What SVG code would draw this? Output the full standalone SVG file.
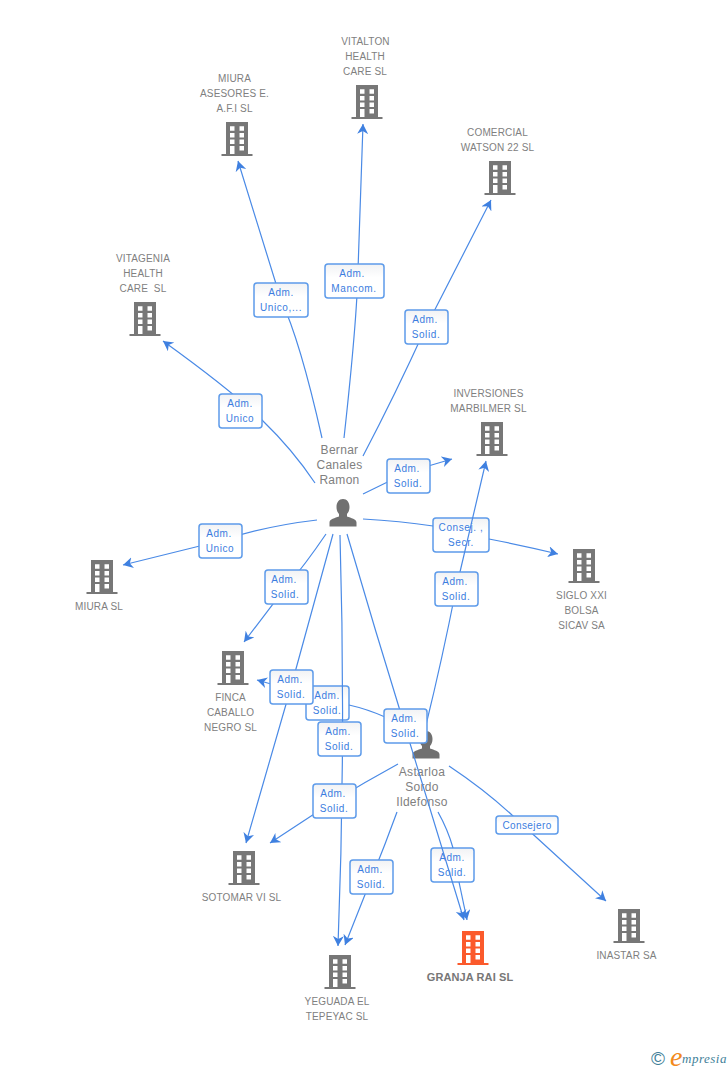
<svg xmlns="http://www.w3.org/2000/svg" xmlns:xlink="http://www.w3.org/1999/xlink" width="728" height="1070" viewBox="0 0 728 1070">
<style>
text{font-family:"Liberation Sans",Arial,sans-serif}
.n{font-size:10px;fill:#808080;text-anchor:middle;letter-spacing:.15px}
.p{font-size:12px;fill:#808080;text-anchor:middle;letter-spacing:.3px}
.g{font-size:11px;font-weight:bold;fill:#777;text-anchor:middle;letter-spacing:.1px}
.e{fill:none;stroke:#4a8ae6;stroke-width:1.2}
.ea{fill:none;stroke:#4a8ae6;stroke-width:1.2;marker-end:url(#a)}
.b{fill:url(#lg);stroke:#5d9bea;stroke-width:1.5}
.l{font-size:10px;fill:#3b7de0;text-anchor:middle;letter-spacing:.6px}
</style>
<defs>
<linearGradient id="lg" x1="0" y1="0" x2="0" y2="1"><stop offset="0" stop-color="#f1f2f4"/><stop offset=".4" stop-color="#fff"/><stop offset="1" stop-color="#fff"/></linearGradient>
<marker id="a" markerUnits="userSpaceOnUse" markerWidth="13" markerHeight="12" refX="10" refY="5.5" orient="auto"><polygon points="10,5.5 0,0 3,5.5 0,11" fill="#3f80e0"/></marker>
<symbol id="bld" overflow="visible">
<path fill-rule="evenodd" d="M-11 0H11V32H15.500V34H-15.500V32H-11ZM-7 4.300V8.800H-2.500V4.300ZM2.500 4.300V8.800H7V4.300ZM-7 11V15.500H-2.500V11ZM2.500 11V15.500H7V11ZM-7 17.500V22H-2.500V17.500ZM2.500 17.500V22H7V17.500ZM-7 24V32H-2.500V24ZM2.500 24V28.500H7V24Z"/>
</symbol>
<symbol id="per" overflow="visible">
<path fill="#707070" d="M0 0C4 0 6.500 3.500 6.500 8C6.500 11 5.500 13.500 4 15V17.500C8 19 13.500 20 13.500 23.500V27.500H-13.500V23.500C-13.500 20 -8 19 -4 17.500V15C-5.500 13.500 -6.500 11 -6.500 8C-6.500 3.500 -4 0 0 0Z"/>
</symbol>
</defs>
<rect width="728" height="1070" fill="#fff"/>
<g id="node-vitalton" fill="#777"><use href="#bld" x="367" y="85"/><text class="n" x="365.500" y="45">VITALTON</text><text class="n" x="365" y="60">HEALTH</text><text class="n" x="365" y="75">CARE SL</text></g>
<g id="node-miura-asesores" fill="#777"><use href="#bld" x="237" y="122"/><text class="n" x="234.500" y="82">MIURA</text><text class="n" x="234.500" y="97">ASESORES E.</text><text class="n" x="234.500" y="112">A.F.I SL</text></g>
<g id="node-comercial" fill="#777"><use href="#bld" x="500" y="161"/><text class="n" x="497.500" y="136">COMERCIAL</text><text class="n" x="497.500" y="151">WATSON 22 SL</text></g>
<g id="node-vitagenia" fill="#777"><use href="#bld" x="145" y="302"/><text class="n" x="143" y="262">VITAGENIA</text><text class="n" x="143" y="277">HEALTH</text><text class="n" x="143" y="292" xml:space="preserve">CARE  SL</text></g>
<g id="node-inversiones" fill="#777"><use href="#bld" x="492" y="422"/><text class="n" x="488.500" y="397">INVERSIONES</text><text class="n" x="488.500" y="412">MARBILMER SL</text></g>
<g id="node-siglo" fill="#777"><use href="#bld" x="584" y="549"/><text class="n" x="581.500" y="599">SIGLO XXI</text><text class="n" x="581.500" y="614">BOLSA</text><text class="n" x="581.500" y="629">SICAV SA</text></g>
<g id="node-miura" fill="#777"><use href="#bld" x="102" y="560"/><text class="n" x="99" y="610">MIURA SL</text></g>
<g id="node-finca" fill="#777"><use href="#bld" x="233" y="651"/><text class="n" x="230.500" y="701">FINCA</text><text class="n" x="230.500" y="716">CABALLO</text><text class="n" x="230.500" y="731">NEGRO SL</text></g>
<g id="node-sotomar" fill="#777"><use href="#bld" x="244" y="851"/><text class="n" x="241.500" y="901">SOTOMAR VI SL</text></g>
<g id="node-yeguada" fill="#777"><use href="#bld" x="340" y="955"/><text class="n" x="337" y="1005">YEGUADA EL</text><text class="n" x="337" y="1020">TEPEYAC SL</text></g>
<g id="node-granja" fill="#fb5a2c"><use href="#bld" x="473" y="931"/><text class="g" x="470" y="981">GRANJA RAI SL</text></g>
<g id="node-inastar" fill="#777"><use href="#bld" x="629" y="909"/><text class="n" x="626.500" y="959">INASTAR SA</text></g>
<g id="node-bernar"><use href="#per" x="343" y="499"/><text class="p" x="339.500" y="454">Bernar</text><text class="p" x="339.500" y="469">Canales</text><text class="p" x="339.500" y="484">Ramon</text></g>
<g id="node-astarloa"><use href="#per" x="426" y="731"/><text class="p" x="422" y="776">Astarloa</text><text class="p" x="422" y="791">Sordo</text><text class="p" x="422" y="806">Ildefonso</text></g>
<g id="labels-under">
<g><rect class="b" x="433" y="518" width="56" height="34" rx="3"/><text class="l" x="461" y="531">Consej. ,</text><text class="l" x="461" y="546">Secr.</text></g>
<g><rect class="b" x="306" y="686" width="43" height="34" rx="3"/><text class="l" x="327" y="699">Adm.</text><text class="l" x="327" y="714">Solid.</text></g>
<g><rect class="b" x="431" y="848" width="43" height="34" rx="3"/><text class="l" x="452" y="861">Adm.</text><text class="l" x="452" y="876">Solid.</text></g>
</g>
<g id="connectors">
<path class="ea" d="M315 483Q293 450 262 420T163 341"/>
<path class="ea" d="M322 438Q300 340 281 300L238 161"/>
<path class="ea" d="M344 438Q357 320 358 270L363 124"/>
<path class="ea" d="M363 456Q395 395 426 327L491 200"/>
<path class="ea" d="M363 494L408 472L452 459"/>
<path class="ea" d="M317 520Q265 526 220 541L123 565"/>
<path class="e" d="M363 519Q400 521 433 526"/>
<path class="ea" d="M489 539Q525 546 558 554"/>
<path class="ea" d="M326 534Q305 565 286 587L244 642"/>
<path class="ea" d="M333 534Q312 610 291 687L246 843"/>
<path class="ea" d="M340 535Q346 740 338 946"/>
<path class="ea" d="M347 534Q375 630 405 727L464 920"/>
<path class="ea" d="M426 725Q442 660 456 589L486 461"/>
<path class="e" d="M385 717Q367 709 349 705"/>
<path class="ea" d="M306 694L257 680"/>
<path class="ea" d="M398 764Q365 782 334 801L270 843"/>
<path class="ea" d="M397 812Q385 845 372 877L345 945"/>
<path class="e" d="M438 812Q448 830 453 848"/>
<path class="ea" d="M459 882L467 920"/>
<path class="ea" d="M449 766Q485 790 513 816L606 901"/>
</g>
<g id="labels-over">
<g><rect class="b" x="219" y="394" width="43" height="34" rx="3"/><text class="l" x="240" y="407">Adm.</text><text class="l" x="240" y="422">Unico</text></g>
<g><rect class="b" x="254" y="283" width="54" height="34" rx="3"/><text class="l" x="281" y="296">Adm.</text><text class="l" x="281" y="311">Unico,...</text></g>
<g><rect class="b" x="325" y="264" width="59" height="34" rx="3"/><text class="l" x="352" y="277">Adm.</text><text class="l" x="354" y="292">Mancom.</text></g>
<g><rect class="b" x="405" y="310" width="43" height="34" rx="3"/><text class="l" x="425" y="323">Adm.</text><text class="l" x="426" y="338">Solid.</text></g>
<g><rect class="b" x="387" y="459" width="43" height="34" rx="3"/><text class="l" x="407" y="472">Adm.</text><text class="l" x="408" y="487">Solid.</text></g>
<g><rect class="b" x="199" y="524" width="43" height="34" rx="3"/><text class="l" x="219" y="537">Adm.</text><text class="l" x="220" y="552">Unico</text></g>
<g><rect class="b" x="265" y="570" width="43" height="34" rx="3"/><text class="l" x="284" y="583">Adm.</text><text class="l" x="285" y="598">Solid.</text></g>
<g><rect class="b" x="435" y="572" width="43" height="34" rx="3"/><text class="l" x="455" y="585">Adm.</text><text class="l" x="456" y="600">Solid.</text></g>
<g><rect class="b" x="270" y="670" width="43" height="34" rx="3"/><text class="l" x="290" y="683">Adm.</text><text class="l" x="291" y="698">Solid.</text></g>
<g><rect class="b" x="318" y="722" width="43" height="34" rx="3"/><text class="l" x="338" y="735">Adm.</text><text class="l" x="339" y="750">Solid.</text></g>
<g><rect class="b" x="384" y="709" width="43" height="34" rx="3"/><text class="l" x="404" y="722">Adm.</text><text class="l" x="405" y="737">Solid.</text></g>
<g><rect class="b" x="313" y="784" width="43" height="34" rx="3"/><text class="l" x="333" y="797">Adm.</text><text class="l" x="334" y="812">Solid.</text></g>
<g><rect class="b" x="350" y="860" width="43" height="34" rx="3"/><text class="l" x="370" y="873">Adm.</text><text class="l" x="371" y="888">Solid.</text></g>
<g><rect class="b" x="496" y="816" width="62" height="18" rx="3"/><text class="l" x="527" y="829" style="letter-spacing:.4px">Consejero</text></g>
</g>
<g id="brand">
<text x="658" y="1065" style="font-size:19px;fill:#3f7f99;text-anchor:middle">©</text>
<text x="670" y="1066" style="font-family:'Liberation Serif',serif;font-style:italic;font-size:28px;fill:#f28a1c">e</text>
<text x="682" y="1063" style="font-family:'Liberation Serif',serif;font-style:italic;font-size:13px;fill:#3f7f99;letter-spacing:.5px">mpresia</text>
</g>
</svg>
